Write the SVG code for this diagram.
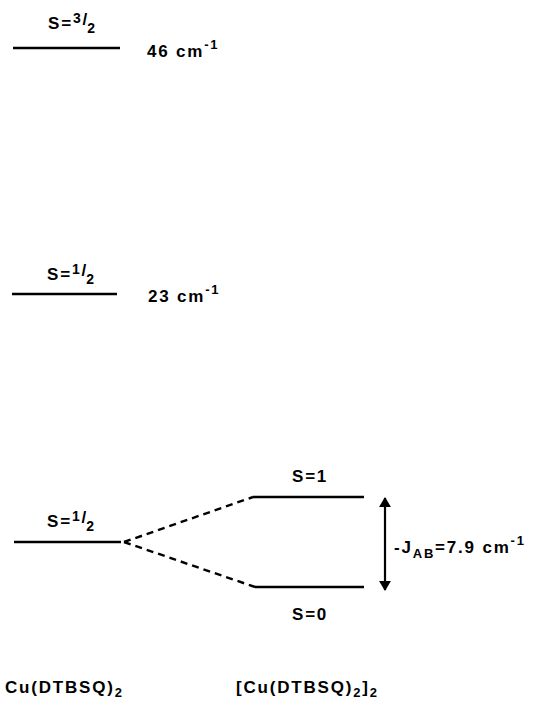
<svg xmlns="http://www.w3.org/2000/svg" width="539" height="702" viewBox="0 0 539 702">
<style>
text{font-family:"Liberation Sans",Arial,sans-serif;font-weight:bold;font-size:17px;fill:#000;letter-spacing:1.8px}
.lv{stroke:#000;stroke-width:2.4;fill:none}
.ds{stroke:#000;stroke-width:2.4;fill:none;stroke-dasharray:7 5}
.sup{font-size:13px}
.fr{font-size:14px}
</style>
<defs>
<marker id="ah" viewBox="0 0 10 12" refX="9" refY="6" markerWidth="4.5" markerHeight="5.5" orient="auto-start-reverse">
<path d="M0,0 L10,6 L0,12 Z" fill="#000"/>
</marker>
</defs>
<rect width="539" height="702" fill="#fff"/>
<g id="level-s32">
<line class="lv" x1="13" y1="48" x2="120" y2="48"/>
<text x="48" y="29">S=<tspan class="fr" dy="-6">3</tspan><tspan dy="2" letter-spacing="0">/</tspan><tspan class="fr" dy="8">2</tspan></text>
<text x="147" y="57">46 cm<tspan class="sup" dy="-8">-1</tspan></text>
</g>
<g id="level-s12-upper">
<line class="lv" x1="12" y1="294" x2="117" y2="294"/>
<text x="47" y="280">S=<tspan class="fr" dy="-6">1</tspan><tspan dy="2" letter-spacing="0">/</tspan><tspan class="fr" dy="8">2</tspan></text>
<text x="148" y="302">23 cm<tspan class="sup" dy="-8">-1</tspan></text>
</g>
<g id="level-s12-lower">
<line class="lv" x1="14" y1="542" x2="121" y2="542"/>
<text x="47" y="527">S=<tspan class="fr" dy="-6">1</tspan><tspan dy="2" letter-spacing="0">/</tspan><tspan class="fr" dy="8">2</tspan></text>
</g>
<g id="level-s1">
<line class="lv" x1="253" y1="497" x2="364" y2="497"/>
<text x="292" y="482">S=1</text>
</g>
<g id="level-s0">
<line class="lv" x1="255" y1="587" x2="364" y2="587"/>
<text x="292" y="620">S=0</text>
</g>
<g id="label-monomer">
<text x="5" y="693">Cu(DTBSQ)<tspan class="sup" dy="4">2</tspan></text>
</g>
<g id="label-dimer">
<text x="236" y="693">[Cu(DTBSQ)<tspan class="sup" dy="4">2</tspan><tspan dy="-4">]</tspan><tspan class="sup" dy="4">2</tspan></text>
</g>
<g id="label-j">
<text x="394" y="553" letter-spacing="2.6">-J<tspan class="sup" dy="5">AB</tspan><tspan dy="-5">=7.9 cm</tspan><tspan class="sup" dy="-8">-1</tspan></text>
</g>
<g id="connectors">
<path class="ds" d="M124,542 L253,497"/>
<path class="ds" d="M124,542 L255,587"/>
<line x1="385" y1="498" x2="385" y2="590" stroke="#000" stroke-width="2.2" marker-start="url(#ah)" marker-end="url(#ah)"/>
</g>
</svg>
